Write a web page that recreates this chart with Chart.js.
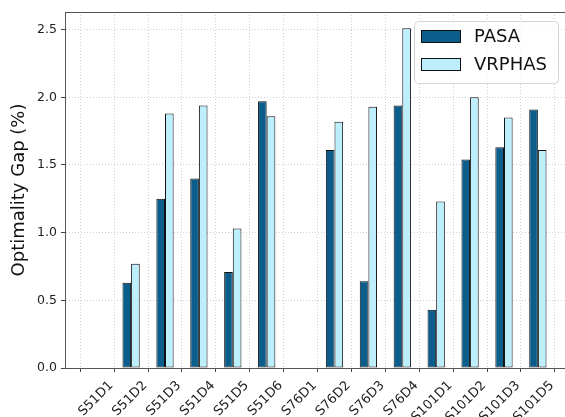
<!DOCTYPE html>
<html>
<head>
<meta charset="utf-8">
<script src="https://cdn.jsdelivr.net/npm/chart.js@4.4.0/dist/chart.umd.min.js"></script>
<style>
  html, body { margin: 0; padding: 0; background: #fff; }
  #wrap { width: 565px; height: 417px; }
</style>
</head>
<body>
<div id="wrap"><canvas id="gapChart" width="565" height="417"></canvas></div>
<script>
// Instances and gaps
const instances = ["S51D1", "S51D2", "S51D3", "S51D4", "S51D5", "S51D6", "S76D1",
    "S76D2", "S76D3", "S76D4", "S101D1", "S101D2", "S101D3", "S101D5"];
const pasaGap   = [0, 0.63, 1.25, 1.40, 0.71, 1.97, 0, 1.61, 0.64, 1.94, 0.43, 1.54, 1.63, 1.91];
const vrphasGap = [0, 0.77, 1.88, 1.94, 1.03, 1.86, 0, 1.82, 1.93, 2.51, 1.23, 2.00, 1.85, 1.61];
const yTicks = [0, 0.5, 1.0, 1.5, 2.0, 2.5];

const FONT = "'DejaVu Sans', sans-serif";

const toPoints = arr => arr.map((v, i) => ({ x: i, y: v }));

// top spine + legend box inside the plot
const frameAndLegend = {
    id: 'frameAndLegend',
    afterDraw(chart) {
        const { ctx, chartArea } = chart;
        ctx.save();
        ctx.strokeStyle = '#555';
        ctx.lineWidth = 1;
        ctx.beginPath();
        ctx.moveTo(chartArea.left, chartArea.top + 0.5);
        ctx.lineTo(chartArea.right, chartArea.top + 0.5);
        ctx.stroke();

        // legend
        const x0 = 414, y0 = 21, w = 144, h = 62;
        ctx.fillStyle = 'rgba(255,255,255,0.8)';
        ctx.strokeStyle = '#d6d6d6';
        ctx.beginPath();
        ctx.roundRect(x0 + 0.5, y0 + 0.5, w, h, 4);
        ctx.fill();
        ctx.stroke();
        chart.data.datasets.forEach((ds, i) => {
            const py = y0 + 9 + i * 28;
            ctx.fillStyle = ds.backgroundColor;
            ctx.strokeStyle = '#111';
            ctx.fillRect(x0 + 7, py, 40, 13);
            ctx.strokeRect(x0 + 7.5, py + 0.5, 39, 12);
            ctx.fillStyle = '#111';
            ctx.font = '18px ' + FONT;
            ctx.textBaseline = 'middle';
            ctx.fillText(ds.label, x0 + 60, py + 7);
        });
        ctx.restore();
    }
};

const ctx = document.getElementById('gapChart').getContext('2d');
new Chart(ctx, {
    type: 'bar',
    data: {
        datasets: [{
            label: 'PASA',
            data: toPoints(pasaGap),
            backgroundColor: '#0b5e8c',
            borderColor: '#111',
            borderWidth: 1,
            borderSkipped: false
        }, {
            label: 'VRPHAS',
            data: toPoints(vrphasGap),
            backgroundColor: '#bdeefb',
            borderColor: '#111',
            borderWidth: 1,
            borderSkipped: false
        }]
    },
    options: {
        responsive: false,
        animation: false,
        events: [],
        layout: { padding: { left: 0, right: 0, top: 12, bottom: 0 } },
        datasets: { bar: { categoryPercentage: 0.51, barPercentage: 1.0 } },
        scales: {
            x: {
                type: 'linear',
                min: -0.95,
                max: 13.8,
                offset: false,
                afterBuildTicks: s => {
                    s.ticks = instances.map((_, i) => ({ value: i }));
                },
                afterFit: s => { s.height = 49; },
                ticks: {
                    stepSize: 1,
                    autoSkip: false,
                    minRotation: 45,
                    maxRotation: 45,
                    labelOffset: 14,
                    padding: 6,
                    color: '#222',
                    font: { family: FONT, size: 13 },
                    callback: v => instances[v] ?? ''
                },
                grid: {
                    color: '#c4c4c4',
                    lineWidth: 0.8,
                    tickLength: 4,
                    tickColor: '#444',
                    tickWidth: 1
                },
                border: { color: '#555', width: 1, dash: [1, 2] }
            },
            y: {
                min: 0,
                max: 2.63,
                afterBuildTicks: s => {
                    s.ticks = yTicks.map(v => ({ value: v }));
                },
                afterFit: s => { s.width = 65; },
                ticks: {
                    padding: 4,
                    color: '#222',
                    font: { family: FONT, size: 12.5 },
                    callback: v => v.toFixed(1)
                },
                grid: {
                    color: '#c4c4c4',
                    lineWidth: 0.8,
                    tickLength: 4,
                    tickColor: '#444',
                    tickWidth: 1
                },
                border: { color: '#555', width: 1, dash: [1, 2] },
                title: {
                    display: true,
                    text: 'Optimality Gap (%)',
                    color: '#111',
                    font: { family: FONT, size: 18 },
                    padding: { top: 9, bottom: 0 }
                }
            }
        },
        plugins: {
            legend: { display: false },
            tooltip: { enabled: false }
        }
    },
    plugins: [frameAndLegend]
});
</script>
</body>
</html>
